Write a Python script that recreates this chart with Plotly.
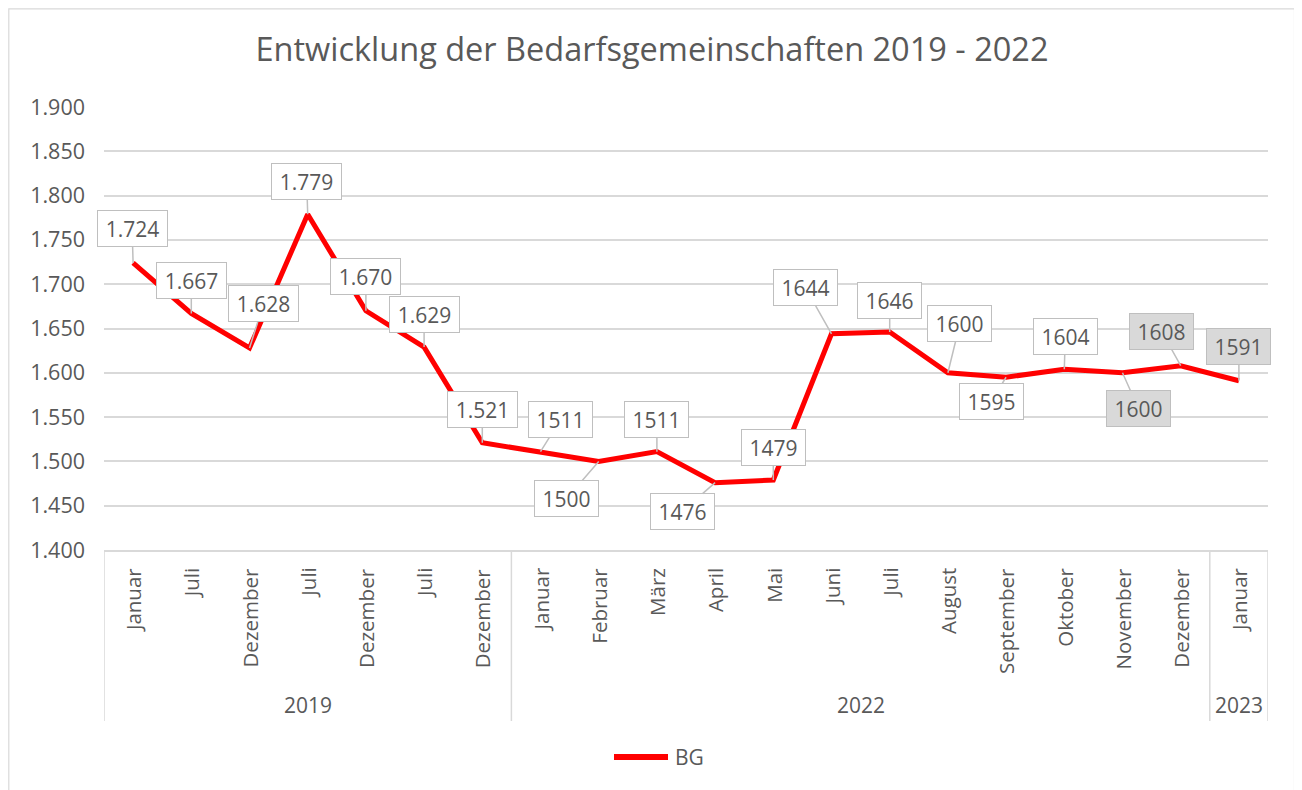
import plotly.graph_objects as go

# ---------------- data ----------------
months = ["Januar", "Juli", "Dezember", "Juli", "Dezember", "Juli", "Dezember",
          "Januar", "Februar", "März", "April", "Mai", "Juni", "Juli", "August",
          "September", "Oktober", "November", "Dezember", "Januar"]
years = ["2019", "2022", "2023"]
year_counts = [7, 12, 1]
values = [1724, 1667, 1628, 1779, 1670, 1629, 1521, 1511, 1500, 1511,
          1476, 1479, 1644, 1646, 1600, 1595, 1604, 1600, 1608, 1591]
series_name = "BG"
title = "Entwicklung der Bedarfsgemeinschaften 2019 - 2022"
y_ticks = [1400, 1450, 1500, 1550, 1600, 1650, 1700, 1750, 1800, 1850, 1900]

# label texts: 2019 values shown with German thousands separator
label_texts = [f"{v:,}".replace(",", ".") if i < 7 else str(v) for i, v in enumerate(values)]

# ---------------- layout / style ----------------
PAGE_W, PAGE_H = 1302, 790
OFF = 8                            # page body margin
W, H = PAGE_W - OFF, PAGE_H - OFF
L, R, T, B = 104, 1268, 107, 550   # plot area in page pixels
TXT = "#595959"
GRID = "#d9d9d9"
FONT = "Open Sans"

def px_x(p):
    return (p - L) / (R - L)

def px_y(p):
    return (B - p) / (B - T)

# callout offsets (pixels, box centre relative to point)
label_offsets = [(-1, -34), (0, -33), (14, -44), (-1, -33), (0, -34), (0, -33), (0, -33),
                 (20, -32), (-32, 37), (0, -32), (-33, 29), (0, -33), (-26, -46), (0, -32),
                 (12, -49), (-15, 24), (1, -33), (16, 36), (-19, -34), (0, -34)]
grey_from = 17

x = list(range(len(values)))

fig = go.Figure()
fig.add_trace(go.Scatter(
    x=x, y=values, mode="lines", name=series_name,
    line=dict(color="#ff0000", width=5), showlegend=False,
))

annotations = []
for i, (v, t) in enumerate(zip(values, label_texts)):
    ax, ay = label_offsets[i]
    grey = i >= grey_from
    annotations.append(dict(
        x=i, y=v, xref="x", yref="y", text=t,
        showarrow=True, arrowhead=0, arrowwidth=1.5, arrowcolor="#bfbfbf",
        ax=ax, ay=ay, axref="pixel", ayref="pixel",
        font=dict(family=FONT, size=21, color=TXT),
        bgcolor="#d9d9d9" if grey else "white",
        bordercolor="#bfbfbf", borderwidth=1, borderpad=5,
        width=59 if len(t) > 4 else 53, height=25,
    ))

# month labels (rotated)
for i, m in enumerate(months):
    annotations.append(dict(
        x=i, y=px_y(566), xref="x", yref="paper", text=m, showarrow=False,
        textangle=-90, xanchor="center", yanchor="top",
        font=dict(family=FONT, size=20.5, color=TXT),
    ))

# year labels and separators
shapes = []
start = 0
n = len(values)
for yname, cnt in zip(years, year_counts):
    centre = start + (cnt - 1) / 2
    annotations.append(dict(
        x=centre, y=px_y(705), xref="x", yref="paper", text=yname, showarrow=False,
        xanchor="center", yanchor="middle",
        font=dict(family=FONT, size=21, color=TXT),
    ))
    start += cnt

bounds = [0]
for cnt in year_counts:
    bounds.append(bounds[-1] + cnt)
for b in bounds:
    shapes.append(dict(
        type="line", xref="x", yref="paper", x0=b - 0.5, x1=b - 0.5,
        y0=px_y(550), y1=px_y(721), line=dict(color=GRID, width=1.5),
    ))

# legend (manual)
shapes.append(dict(
    type="line", xref="paper", yref="paper", x0=px_x(614), x1=px_x(668),
    y0=px_y(757), y1=px_y(757), line=dict(color="#ff0000", width=6),
))
annotations.append(dict(
    x=px_x(673), y=px_y(757), xref="paper", yref="paper", text=series_name,
    showarrow=False, xanchor="left", yanchor="middle",
    font=dict(family=FONT, size=21, color=TXT),
))

# chart border
shapes.append(dict(
    type="rect", xref="paper", yref="paper", x0=px_x(8.8), x1=px_x(1294.5),
    y0=px_y(8.8), y1=px_y(820), line=dict(color=GRID, width=1.2), fillcolor="rgba(0,0,0,0)",
    layer="below",
))

fig.update_layout(
    width=W, height=H,
    margin=dict(l=L - OFF, r=PAGE_W - R, t=T - OFF, b=PAGE_H - B, autoexpand=False),
    paper_bgcolor="white", plot_bgcolor="white",
    separators=",.",
    title=dict(text=title, x=(652 - OFF) / W, xref="container", xanchor="center",
               y=1 - (50 - OFF) / H, yref="container", yanchor="middle",
               font=dict(family=FONT, size=32.5, color=TXT)),
    xaxis=dict(range=[-0.5, n - 0.5], showticklabels=False, showgrid=False,
               zeroline=False, showline=True, linecolor=GRID, linewidth=1.5,
               fixedrange=True),
    yaxis=dict(range=[1400, 1900], tickvals=y_ticks, tickformat=",.0f",
               showgrid=True, gridcolor=GRID, gridwidth=1.5, zeroline=False,
               showline=False, ticks="", ticklabelstandoff=18,
               tickfont=dict(family=FONT, size=21.5, color=TXT), automargin=False),
    annotations=annotations, shapes=shapes, showlegend=False,
    font=dict(family=FONT, color=TXT),
)

fig.write_html("out.html")
